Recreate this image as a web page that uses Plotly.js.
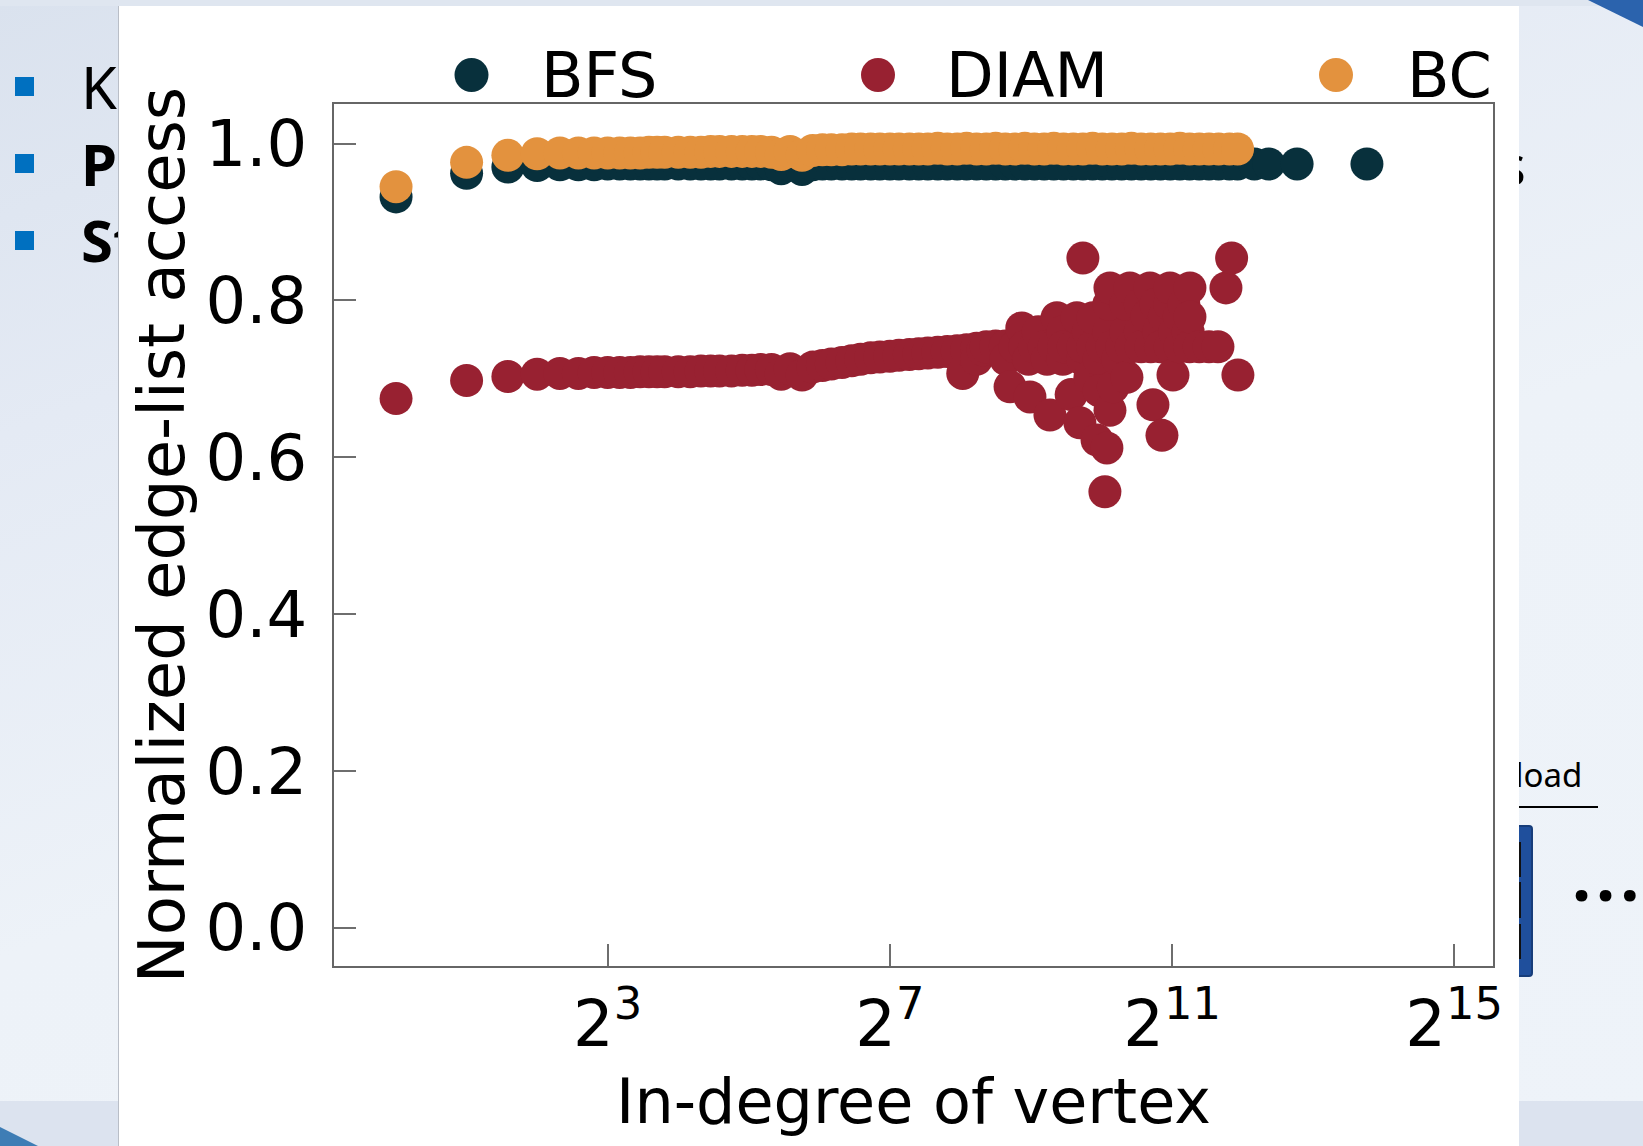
<!DOCTYPE html>
<html>
<head>
<meta charset="utf-8">
<script src="https://cdn.plot.ly/plotly-3.0.1.min.js"></script>
<style>
html,body{margin:0;padding:0;}
body{width:1643px;height:1146px;position:relative;overflow:hidden;
  background:linear-gradient(160deg,#dae2ee 0%,#e4eaf4 25%,#edf2f8 55%,#eef3f9 100%);
  font-family:'Noto Sans',sans-serif;color:#000;}
.topstrip{position:absolute;left:0;top:0;width:1643px;height:6px;background:#dfe6f0;}
.bottomband{position:absolute;left:0;top:1101px;width:1643px;height:45px;background:#dce3ef;}
.swoosh-tr{position:absolute;left:1588px;top:0;width:55px;height:27px;background:#2b63ad;clip-path:polygon(0 0,100% 0,100% 100%);}
.swoosh-bl{position:absolute;left:0;top:1127px;width:38px;height:19px;background:#3e7db5;clip-path:polygon(0 0,100% 100%,0 100%);}
.bullet{position:absolute;left:15px;width:19px;height:19px;background:#0070c0;}
.sl{position:absolute;font-size:58px;line-height:58px;white-space:nowrap;}
.panel{position:absolute;left:118px;top:6px;width:1400px;height:1140px;background:#fff;border-left:1px solid #b9bec7;}
.bluebox{position:absolute;left:1495px;top:825px;width:34px;height:148px;background:#1f4f9c;border:2px solid #173d7a;border-radius:4px;}
.blk{position:absolute;left:1512px;width:9px;background:#111;}
#chart{position:absolute;left:0;top:0;width:1643px;height:1146px;}
</style>
</head>
<body>
<div class="topstrip"></div>
<div class="bottomband"></div>
<div class="swoosh-tr"></div>
<div class="swoosh-bl"></div>
<div class="bullet" style="top:77px"></div>
<div class="bullet" style="top:154px"></div>
<div class="bullet" style="top:231px"></div>
<div class="sl" style="left:81px;top:58px;font-size:58px">Ke</div>
<div class="sl" style="left:81px;top:135px;font-size:58px;font-weight:bold">Pe</div>
<div class="sl" style="left:81px;top:211px;font-size:58px;font-weight:bold">St</div>
<div class="sl" style="left:1500px;top:137px;font-size:54px;line-height:54px">s</div>
<div class="sl" style="left:1515px;top:758px;font-size:33px;line-height:33px">load</div>
<div style="position:absolute;left:1518px;top:806px;width:80px;height:2px;background:#000"></div>
<div class="bluebox"></div>
<div class="blk" style="top:842px;height:35px"></div>
<div class="blk" style="top:882px;height:36px"></div>
<div class="blk" style="top:924px;height:35px"></div>
<div class="sl" style="left:1572px;top:841px;font-size:68px;line-height:68px;font-weight:bold;letter-spacing:5px">...</div>
<div class="panel"></div>
<div id="chart"></div>
<script>
// ---- data ----
const seriesNames = ['BFS', 'DIAM', 'BC'];
const seriesColors = ['#08303c', '#982131', '#e3923e'];

const bfsDegree = [1,2,3,4,5,6,7,8,9,10,11,12,13,14,16,18,20,22,24,27,30,33,36,40,44,48,54,60,66,72,80,88,96,106,116,128,140,155,170,186,205,225,248,272,300,330,362,398,438,482,530,583,641,705,776,853,938,1032,1135,1249,1374,1511,1662,1828,2011,2212,2433,2676,2944,3238,3600,3900,4600,5300,7000,13900];
const bfsAccess = [0.932,0.962,0.970,0.972,0.973,0.973,0.973,0.974,0.974,0.974,0.974,0.974,0.974,0.974,0.974,0.974,0.974,0.974,0.974,0.974,0.974,0.974,0.974,0.973,0.968,0.973,0.967,0.973,0.974,0.974,0.974,0.974,0.974,0.974,0.974,0.974,0.974,0.974,0.974,0.974,0.974,0.974,0.974,0.974,0.974,0.974,0.974,0.974,0.974,0.974,0.974,0.974,0.974,0.974,0.974,0.974,0.974,0.974,0.974,0.974,0.974,0.974,0.974,0.974,0.974,0.974,0.974,0.974,0.974,0.974,0.974,0.974,0.974,0.974,0.974,0.974];

const diamDegree = [1,2,3,4,5,6,7,8,9,10,11,12,13,14,16,18,20,22,24,27,30,33,36,40,44,48,54,60,66,72,80,88,96,106,116,128,140,155,170,186,205,225,248,262,272,300,300,320,330,362,398,400,417,438,468,482,500,507,530,550,583,600,617,641,661,700,700,705,760,776,804,828,850,853,853,900,914,938,942,980,1000,1000,1032,1059,1080,1100,1100,1113,1113,1135,1150,1200,1249,1300,1300,1315,1353,1374,1500,1500,1511,1600,1648,1662,1698,1750,1800,1828,1855,1900,2000,2006,2011,2067,2100,2200,2212,2300,2400,2433,2442,2442,2676,2944,3216,3478,3678,3913];
const diamAccess = [0.675,0.698,0.703,0.706,0.707,0.707,0.708,0.708,0.708,0.708,0.709,0.709,0.709,0.709,0.709,0.709,0.710,0.710,0.710,0.710,0.711,0.711,0.712,0.712,0.706,0.713,0.705,0.715,0.717,0.719,0.721,0.723,0.725,0.727,0.728,0.729,0.730,0.731,0.732,0.733,0.734,0.735,0.736,0.707,0.737,0.739,0.725,0.737,0.741,0.742,0.742,0.725,0.690,0.741,0.765,0.741,0.725,0.677,0.741,0.760,0.741,0.725,0.654,0.741,0.778,0.760,0.725,0.741,0.680,0.741,0.778,0.644,0.725,0.854,0.741,0.760,0.702,0.741,0.778,0.622,0.725,0.685,0.741,0.556,0.612,0.760,0.795,0.816,0.660,0.741,0.690,0.725,0.741,0.760,0.795,0.702,0.816,0.741,0.760,0.795,0.741,0.780,0.816,0.741,0.667,0.795,0.760,0.741,0.628,0.780,0.795,0.816,0.741,0.705,0.760,0.780,0.741,0.795,0.760,0.741,0.816,0.779,0.741,0.741,0.741,0.816,0.854,0.705];

const bcDegree = [1,2,3,4,5,6,7,8,9,10,11,12,13,14,16,18,20,22,24,27,30,33,36,40,44,48,54,60,66,72,80,88,96,106,116,128,140,155,170,186,205,225,248,272,300,330,362,398,438,482,530,583,641,705,776,853,938,1032,1135,1249,1374,1511,1662,1828,2011,2212,2433,2676,2944,3238,3600,3900];
const bcAccess = [0.945,0.976,0.985,0.987,0.988,0.988,0.988,0.988,0.988,0.988,0.988,0.989,0.989,0.989,0.989,0.989,0.989,0.990,0.990,0.990,0.990,0.990,0.990,0.989,0.986,0.990,0.985,0.991,0.992,0.992,0.992,0.993,0.993,0.993,0.993,0.993,0.993,0.993,0.993,0.993,0.994,0.993,0.993,0.994,0.993,0.993,0.994,0.993,0.993,0.994,0.993,0.993,0.994,0.993,0.993,0.993,0.994,0.993,0.993,0.993,0.994,0.993,0.993,0.993,0.993,0.994,0.993,0.993,0.993,0.993,0.993,0.993];

const xTickVals = [8, 128, 2048, 32768];
const xTickText = ['2<sup>3</sup>', '2<sup>7</sup>', '2<sup>11</sup>', '2<sup>15</sup>'];
const yTickVals = [0, 0.2, 0.4, 0.6, 0.8, 1.0];
const yTickText = ['0.0', '0.2', '0.4', '0.6', '0.8', '1.0'];
const xTitle = 'In-degree of vertex';
const yTitle = 'Normalized edge-list access';

// ---- chart ----
const plotL = 334, plotR = 1493, plotT = 104, plotB = 966;
const W = 1643, H = 1146;
const px2paperX = p => (p - plotL) / (plotR - plotL);
const px2paperY = p => (plotB - p) / (plotB - plotT);

const xs = [bfsDegree, diamDegree, bcDegree];
const ys = [bfsAccess, diamAccess, bcAccess];
const traces = seriesNames.map((n, i) => ({
  type: 'scatter', mode: 'markers', name: n,
  x: xs[i], y: ys[i],
  marker: {color: seriesColors[i], size: 33, line: {width: 0}},
  hoverinfo: 'x+y+name'
}));

const legendMarkerX = [471.5, 878, 1336];
const legendTextX = [539, 944, 1405];
const legendY = 75;
const shapes = seriesNames.map((n, i) => ({
  type: 'circle', xref: 'paper', yref: 'paper',
  xsizemode: 'pixel', ysizemode: 'pixel',
  xanchor: px2paperX(legendMarkerX[i]), yanchor: px2paperY(legendY),
  x0: -17, x1: 17, y0: -17, y1: 17,
  fillcolor: seriesColors[i], line: {width: 0}
}));
const annotations = seriesNames.map((n, i) => ({
  text: n, xref: 'paper', yref: 'paper',
  x: px2paperX(legendTextX[i]), y: px2paperY(legendY),
  xanchor: 'left', yanchor: 'middle', showarrow: false,
  font: {family: 'DejaVu Sans', size: 62, color: '#000'}
}));

const axisCommon = {
  ticks: 'inside', ticklen: 22, tickwidth: 2, tickcolor: '#6e6e6e',
  showline: true, linecolor: '#666666', linewidth: 2, mirror: true,
  showgrid: false, zeroline: false, automargin: false,
  tickfont: {family: 'DejaVu Sans', size: 64, color: '#000'}
};

const layout = {
  width: W, height: H,
  paper_bgcolor: 'rgba(0,0,0,0)', plot_bgcolor: '#ffffff',
  margin: {l: plotL, r: W - plotR, t: plotT, b: H - plotB, pad: 0},
  showlegend: false,
  font: {family: 'DejaVu Sans', color: '#000'},
  xaxis: Object.assign({}, axisCommon, {
    type: 'log', range: [-0.2648, 4.681],
    tickmode: 'array', tickvals: xTickVals, ticktext: xTickText,
    ticklabelstandoff: 1,
    title: {text: xTitle, font: {family: 'DejaVu Sans', size: 62, color: '#000'}, standoff: 20}
  }),
  yaxis: Object.assign({}, axisCommon, {
    range: [-0.0484, 1.0504],
    tickmode: 'array', tickvals: yTickVals, ticktext: yTickText,
    ticklabelstandoff: 12,
    title: {text: yTitle, font: {family: 'DejaVu Sans', size: 64, color: '#000'}, standoff: 0}
  }),
  shapes: shapes,
  annotations: annotations
};

Plotly.newPlot('chart', traces, layout, {displayModeBar: false, staticPlot: true});
</script>
</body>
</html>
